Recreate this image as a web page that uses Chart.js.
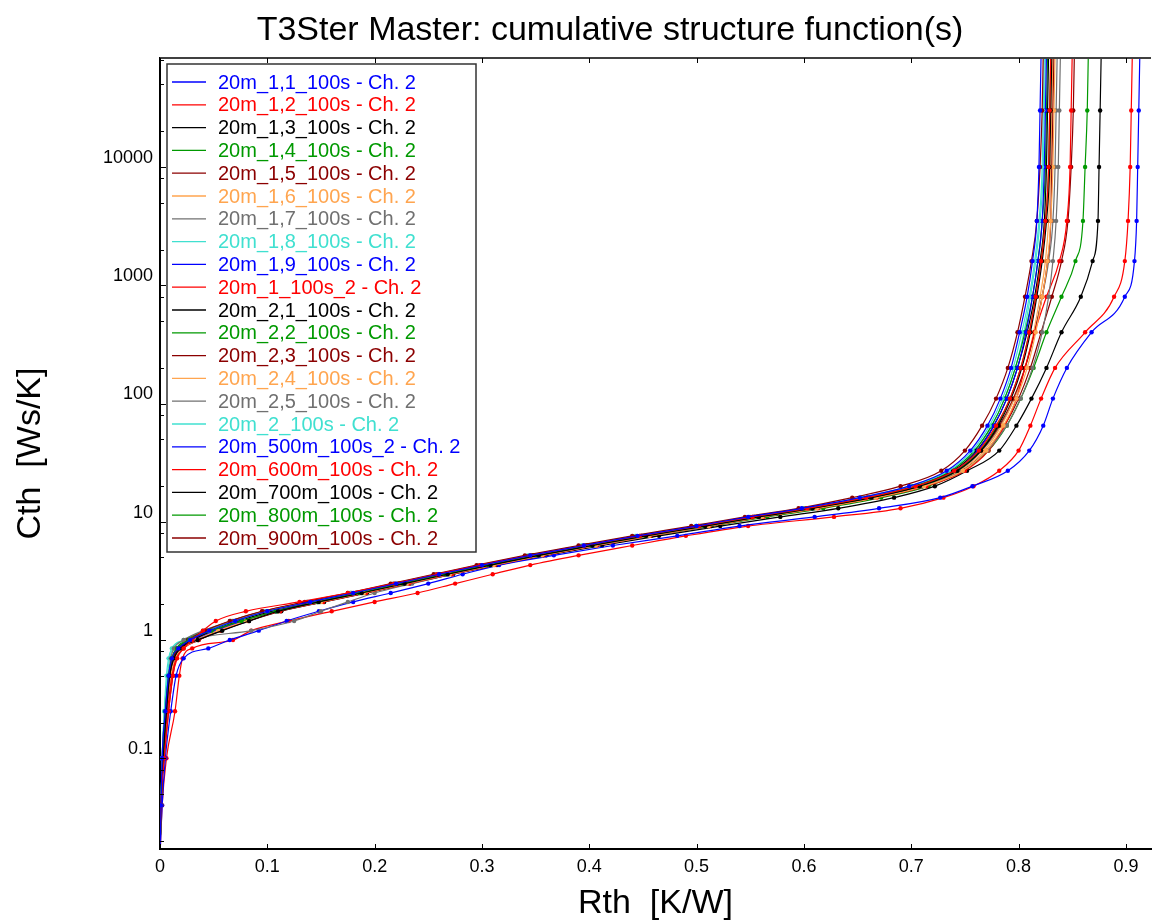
<!DOCTYPE html>
<html>
<head>
<meta charset="utf-8">
<script src="https://cdn.jsdelivr.net/npm/chart.js@4.4.1/dist/chart.umd.min.js"></script>
<style>
  body { margin: 0; background: #fff; }
  canvas { display: block; }
</style>
</head>
<body>
<canvas id="chart" width="1155" height="921"></canvas>
<script>
const titleText = 'T3Ster Master: cumulative structure function(s)';
const xTitle = 'Rth  [K/W]';
const yTitle = 'Cth  [Ws/K]';

// Cth levels shared by all curves (y values), Rth of each curve at those levels (x values)
const cthLevels = [0.015, 0.04, 0.1, 0.25, 0.5, 0.7, 0.85, 1, 1.2, 1.45, 1.75, 2.1, 2.5, 3, 3.6, 4.3, 5.2, 6.3, 7.6, 9.2,
  11, 13, 16, 20, 27, 40, 65, 110, 200, 400, 800, 1600, 3500, 10000, 30000, 90000];

const seriesNames = [
  '20m_1,1_100s - Ch. 2', '20m_1,2_100s - Ch. 2', '20m_1,3_100s - Ch. 2', '20m_1,4_100s - Ch. 2',
  '20m_1,5_100s - Ch. 2', '20m_1,6_100s - Ch. 2', '20m_1,7_100s - Ch. 2', '20m_1,8_100s - Ch. 2',
  '20m_1,9_100s - Ch. 2', '20m_1_100s_2 - Ch. 2', '20m_2,1_100s - Ch. 2', '20m_2,2_100s - Ch. 2',
  '20m_2,3_100s - Ch. 2', '20m_2,4_100s - Ch. 2', '20m_2,5_100s - Ch. 2', '20m_2_100s - Ch. 2',
  '20m_500m_100s_2 - Ch. 2', '20m_600m_100s - Ch. 2', '20m_700m_100s - Ch. 2', '20m_800m_100s - Ch. 2',
  '20m_900m_100s - Ch. 2'
];

const seriesColors = [
  '#0000ff', '#ff0000', '#000000', '#009900', '#8b0000', '#ffa54f', '#707070', '#40e0d0',
  '#0000ff', '#ff0000', '#000000', '#009900', '#8b0000', '#ffa54f', '#707070', '#40e0d0',
  '#0000ff', '#ff0000', '#000000', '#009900', '#8b0000'
];

const rthS01 = [0.000,0.001,0.002,0.005,0.008,0.011,0.017,0.028,0.046,0.070,0.100,0.140,0.180,0.220,0.260,0.300,0.345,0.395,0.445,0.500,0.548,0.598,0.652,0.698,0.733,0.755,0.771,0.783,0.793,0.801,0.808,0.813,0.817,0.819,0.820,0.821];
const rthS02 = [0.000,0.001,0.004,0.008,0.012,0.016,0.022,0.030,0.040,0.052,0.080,0.130,0.175,0.218,0.258,0.298,0.345,0.395,0.447,0.502,0.552,0.603,0.658,0.704,0.740,0.763,0.779,0.792,0.802,0.810,0.816,0.821,0.825,0.828,0.829,0.830];
const rthS03 = [0.000,0.001,0.003,0.006,0.009,0.013,0.019,0.035,0.058,0.083,0.110,0.148,0.188,0.228,0.268,0.308,0.353,0.403,0.453,0.508,0.558,0.608,0.663,0.708,0.743,0.765,0.781,0.793,0.803,0.811,0.817,0.822,0.826,0.829,0.830,0.831];
const rthS04 = [0.000,0.001,0.003,0.005,0.008,0.011,0.016,0.027,0.048,0.076,0.108,0.147,0.186,0.226,0.266,0.306,0.352,0.402,0.452,0.507,0.557,0.607,0.662,0.707,0.742,0.764,0.780,0.792,0.802,0.810,0.816,0.821,0.825,0.828,0.829,0.830];
const rthS05 = [0.000,0.001,0.003,0.006,0.009,0.012,0.017,0.026,0.042,0.065,0.095,0.135,0.175,0.215,0.255,0.295,0.340,0.390,0.440,0.495,0.545,0.595,0.645,0.690,0.728,0.750,0.766,0.779,0.790,0.799,0.806,0.812,0.817,0.820,0.822,0.823];
const rthS06 = [0.000,0.001,0.003,0.006,0.010,0.014,0.021,0.034,0.054,0.080,0.110,0.150,0.190,0.230,0.270,0.311,0.356,0.406,0.456,0.511,0.561,0.612,0.667,0.712,0.748,0.770,0.786,0.798,0.808,0.816,0.822,0.827,0.830,0.832,0.833,0.834];
const rthS07 = [0.000,0.001,0.002,0.005,0.008,0.010,0.013,0.022,0.040,0.068,0.100,0.142,0.183,0.224,0.264,0.304,0.350,0.400,0.451,0.506,0.557,0.608,0.664,0.710,0.747,0.771,0.789,0.802,0.813,0.822,0.828,0.832,0.835,0.837,0.838,0.839];
const rthS08 = [0.000,0.001,0.002,0.004,0.007,0.009,0.012,0.025,0.045,0.070,0.100,0.138,0.178,0.218,0.258,0.298,0.344,0.394,0.444,0.500,0.550,0.600,0.654,0.699,0.735,0.757,0.773,0.785,0.795,0.803,0.810,0.815,0.819,0.822,0.823,0.824];
const rthS09 = [0.000,0.001,0.003,0.006,0.009,0.013,0.019,0.033,0.052,0.078,0.108,0.147,0.187,0.227,0.267,0.307,0.352,0.402,0.452,0.507,0.557,0.607,0.661,0.706,0.741,0.762,0.777,0.789,0.799,0.807,0.813,0.818,0.822,0.824,0.825,0.826];
const rthS10 = [0.000,0.001,0.003,0.007,0.011,0.015,0.022,0.036,0.056,0.082,0.112,0.152,0.192,0.232,0.272,0.312,0.357,0.407,0.457,0.512,0.562,0.613,0.668,0.714,0.750,0.772,0.787,0.798,0.806,0.815,0.826,0.838,0.845,0.848,0.849,0.850];
const rthS11 = [0.000,0.001,0.003,0.006,0.009,0.012,0.018,0.030,0.049,0.074,0.104,0.144,0.184,0.224,0.264,0.304,0.349,0.399,0.449,0.504,0.554,0.604,0.659,0.704,0.739,0.761,0.777,0.789,0.799,0.808,0.815,0.820,0.824,0.826,0.827,0.828];
const rthS12 = [0.000,0.001,0.002,0.005,0.008,0.011,0.015,0.024,0.044,0.070,0.102,0.142,0.182,0.222,0.262,0.302,0.347,0.397,0.447,0.502,0.552,0.602,0.656,0.701,0.737,0.759,0.775,0.787,0.797,0.806,0.813,0.818,0.822,0.825,0.826,0.827];
const rthS13 = [0.000,0.001,0.003,0.006,0.010,0.014,0.020,0.031,0.049,0.073,0.103,0.143,0.183,0.223,0.263,0.303,0.348,0.398,0.448,0.503,0.553,0.604,0.660,0.706,0.742,0.765,0.782,0.795,0.806,0.815,0.822,0.827,0.830,0.831,0.832,0.833];
const rthS14 = [0.000,0.001,0.003,0.006,0.009,0.013,0.019,0.031,0.051,0.077,0.107,0.146,0.186,0.226,0.266,0.306,0.351,0.401,0.451,0.506,0.556,0.606,0.662,0.709,0.745,0.768,0.784,0.796,0.806,0.814,0.820,0.825,0.828,0.830,0.831,0.832];
const rthS15 = [0.000,0.001,0.003,0.006,0.009,0.012,0.016,0.030,0.085,0.125,0.150,0.175,0.200,0.235,0.272,0.310,0.354,0.404,0.454,0.509,0.559,0.609,0.664,0.709,0.744,0.766,0.783,0.796,0.806,0.815,0.822,0.828,0.832,0.834,0.835,0.836];
const rthS16 = [0.000,0.001,0.002,0.004,0.006,0.008,0.011,0.022,0.042,0.068,0.098,0.137,0.177,0.217,0.257,0.297,0.343,0.393,0.443,0.499,0.549,0.599,0.653,0.699,0.736,0.759,0.775,0.787,0.797,0.805,0.811,0.816,0.820,0.823,0.824,0.825];
const rthS17 = [0.000,0.002,0.005,0.010,0.015,0.022,0.045,0.065,0.092,0.118,0.148,0.180,0.215,0.250,0.282,0.316,0.367,0.422,0.482,0.540,0.610,0.670,0.727,0.757,0.790,0.810,0.823,0.832,0.845,0.868,0.899,0.908,0.910,0.911,0.912,0.913];
const rthS18 = [0.000,0.002,0.006,0.014,0.018,0.021,0.030,0.068,0.085,0.120,0.160,0.200,0.240,0.275,0.310,0.345,0.390,0.440,0.490,0.548,0.628,0.690,0.730,0.758,0.782,0.800,0.811,0.821,0.834,0.862,0.889,0.899,0.902,0.904,0.905,0.906];
const rthS19 = [0.000,0.001,0.003,0.006,0.010,0.014,0.021,0.036,0.057,0.083,0.113,0.153,0.193,0.233,0.273,0.314,0.360,0.412,0.465,0.522,0.578,0.632,0.684,0.722,0.752,0.782,0.798,0.812,0.826,0.840,0.858,0.869,0.874,0.875,0.876,0.877];
const rthS20 = [0.000,0.001,0.003,0.006,0.009,0.013,0.019,0.033,0.053,0.079,0.109,0.149,0.189,0.229,0.269,0.309,0.355,0.406,0.458,0.514,0.566,0.618,0.672,0.716,0.748,0.772,0.789,0.802,0.814,0.826,0.840,0.853,0.860,0.862,0.864,0.865];
const rthS21 = [0.000,0.001,0.004,0.008,0.012,0.015,0.020,0.029,0.044,0.066,0.096,0.137,0.178,0.219,0.260,0.301,0.347,0.398,0.449,0.505,0.556,0.607,0.663,0.710,0.747,0.770,0.787,0.800,0.811,0.821,0.831,0.840,0.846,0.849,0.851,0.852];

const rthSeries = [rthS01, rthS02, rthS03, rthS04, rthS05, rthS06, rthS07, rthS08, rthS09, rthS10, rthS11,
  rthS12, rthS13, rthS14, rthS15, rthS16, rthS17, rthS18, rthS19, rthS20, rthS21];

const xTickValues = [0, 0.1, 0.2, 0.3, 0.4, 0.5, 0.6, 0.7, 0.8, 0.9];
const yMajorTicks = [0.1, 1, 10, 100, 1000, 10000];
const yMinorTicks = [0.02, 0.05, 0.08, 0.2, 0.5, 0.8, 2, 5, 8, 20, 50, 80, 200, 500, 800,
  2000, 5000, 8000, 20000, 50000, 80000];

const FONT = 'Arial, "Liberation Sans", sans-serif';

const datasets = rthSeries.map((rth, i) => ({
    label: seriesNames[i],
    data: cthLevels.map((c, k) => ({x: rth[k], y: c})),
    borderColor: seriesColors[i],
    backgroundColor: seriesColors[i],
    borderWidth: 1.2,
    pointRadius: 2.2,
    pointBorderWidth: 0,
    cubicInterpolationMode: 'monotone',
}));

// top frame line, inward tick marks, title and the boxed legend inside the plot
const decorations = {
    id: 'decorations',
    afterDatasetsDraw(chart) {
        const {ctx, chartArea: a, scales: {x, y}} = chart;
        ctx.save();
        ctx.strokeStyle = '#404040';
        ctx.lineWidth = 2;
        ctx.beginPath();
        ctx.moveTo(a.left, a.top);
        ctx.lineTo(a.right, a.top);
        ctx.stroke();

        ctx.strokeStyle = '#000';
        ctx.lineWidth = 1;
        x.ticks.forEach(t => {
            const px = Math.round(x.getPixelForValue(t.value)) + 0.5;
            ctx.beginPath();
            ctx.moveTo(px, a.bottom);
            ctx.lineTo(px, a.bottom - 5);
            ctx.moveTo(px, a.top);
            ctx.lineTo(px, a.top + 5);
            ctx.stroke();
        });
        y.ticks.forEach(t => {
            const py = Math.round(y.getPixelForValue(t.value)) + 0.5;
            const len = yMajorTicks.includes(t.value) ? 6 : 4;
            ctx.beginPath();
            ctx.moveTo(a.left, py);
            ctx.lineTo(a.left + len, py);
            ctx.stroke();
        });
        ctx.restore();
    },
    afterDraw(chart) {
        const ctx = chart.ctx;
        ctx.save();
        ctx.fillStyle = '#000';
        ctx.font = '34px ' + FONT;
        ctx.textAlign = 'center';
        ctx.textBaseline = 'middle';
        ctx.fillText(titleText, 610, 31);

        // legend box
        ctx.fillStyle = '#fff';
        ctx.fillRect(167, 64, 309, 488);
        ctx.strokeStyle = '#333';
        ctx.lineWidth = 1.5;
        ctx.strokeRect(167, 64, 309, 488);
        ctx.font = '20px ' + FONT;
        ctx.textAlign = 'left';
        chart.data.datasets.forEach((ds, i) => {
            const ly = 82 + i * 22.8;
            ctx.strokeStyle = ds.borderColor;
            ctx.lineWidth = 1.3;
            ctx.beginPath();
            ctx.moveTo(172, ly);
            ctx.lineTo(206, ly);
            ctx.stroke();
            ctx.fillStyle = ds.borderColor;
            ctx.fillText(ds.label, 218, ly + 1);
        });
        ctx.restore();
    }
};

new Chart(document.getElementById('chart'), {
    type: 'line',
    data: {datasets},
    options: {
        responsive: false,
        animation: false,
        layout: {padding: {top: 58, left: 0, right: -3, bottom: 0}},
        plugins: {
            legend: {display: false},
            tooltip: {enabled: false},
        },
        scales: {
            x: {
                type: 'linear',
                min: 0,
                max: 0.9234,
                afterFit: scale => {
                    scale.height = 72;
                    scale.paddingLeft = 0;
                    scale.paddingRight = 0;
                },
                afterBuildTicks: scale => { scale.ticks = xTickValues.map(v => ({value: v})); },
                grid: {display: false, drawTicks: false},
                border: {display: true, color: '#000', width: 2},
                ticks: {
                    padding: 7,
                    color: '#000',
                    font: {family: FONT, size: 18},
                    maxRotation: 0,
                    autoSkip: false,
                    callback: v => String(Math.round(v * 10) / 10),
                },
                title: {
                    display: true,
                    text: xTitle,
                    color: '#000',
                    font: {family: FONT, size: 34},
                    padding: {top: 0, bottom: -3},
                },
            },
            y: {
                type: 'logarithmic',
                min: 0.0171,
                max: 83500,
                afterFit: scale => {
                    scale.width = 160;
                    scale.paddingTop = 0;
                    scale.paddingBottom = 0;
                },
                afterBuildTicks: scale => {
                    scale.ticks = yMajorTicks.concat(yMinorTicks).sort((p, q) => p - q).map(v => ({value: v}));
                },
                grid: {display: false, drawTicks: false},
                border: {display: true, color: '#000', width: 2},
                ticks: {
                    padding: 7,
                    labelOffset: -9,
                    color: '#000',
                    font: {family: FONT, size: 18},
                    autoSkip: false,
                    callback: v => yMajorTicks.includes(v) ? String(v) : '',
                },
                title: {
                    display: true,
                    text: yTitle,
                    color: '#000',
                    font: {family: FONT, size: 34},
                    padding: {top: 10, bottom: 0},
                },
            },
        },
    },
    plugins: [decorations],
});
</script>
</body>
</html>
